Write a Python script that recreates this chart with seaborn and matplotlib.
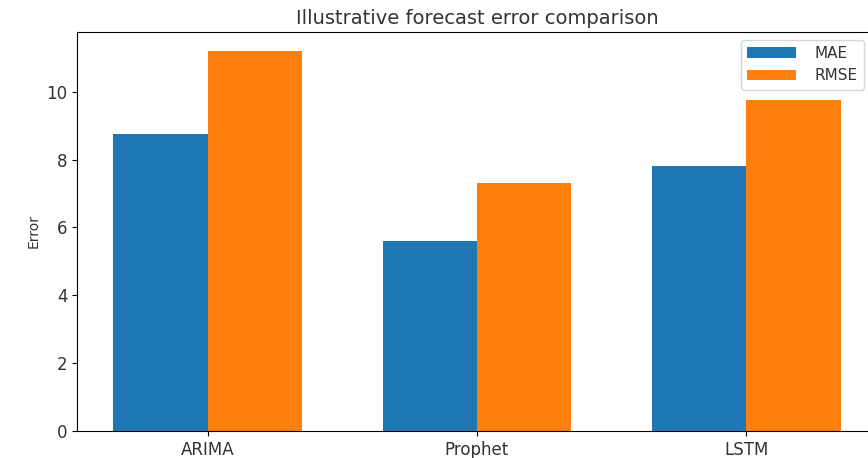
import pandas as pd
import matplotlib
matplotlib.use("Agg")
import matplotlib.pyplot as plt
import seaborn as sns

models = ["ARIMA", "Prophet", "LSTM"]
metrics = ["MAE", "RMSE"]
mae = [8.75, 5.6, 7.8]
rmse = [11.2, 7.3, 9.75]
colors = ["#1f77b4", "#ff7f0e"]

df = pd.DataFrame({
    "model": models * 2,
    "metric": ["MAE"] * 3 + ["RMSE"] * 3,
    "error": mae + rmse,
})

fig = plt.figure(figsize=(8.68, 4.58), dpi=100)
# axes runs past the right edge, like the cropped original
ax = fig.add_axes([77 / 868, 27 / 458, 800 / 868, 399 / 458])

sns.barplot(data=df, x="model", y="error", hue="metric", hue_order=metrics,
            palette=colors, saturation=1, width=0.7, linewidth=0, ax=ax)

ax.set_xlim(-0.485, 2.485)
ax.set_ylim(0, 11.76)
ax.set_title("Illustrative forecast error comparison", fontsize=14, color="#333333")
ax.set_xlabel("")
ax.set_ylabel("Error", fontsize=10, color="#333333")
ax.tick_params(labelsize=12, labelcolor="#333333")

handles, labels = ax.get_legend_handles_labels()
ax.legend(handles, labels, loc="upper right", fontsize=11, handlelength=3.2,
          handletextpad=1.2, bbox_to_anchor=(0.993, 1.0), labelcolor="#333333")

fig.savefig("out.png", dpi=100)
